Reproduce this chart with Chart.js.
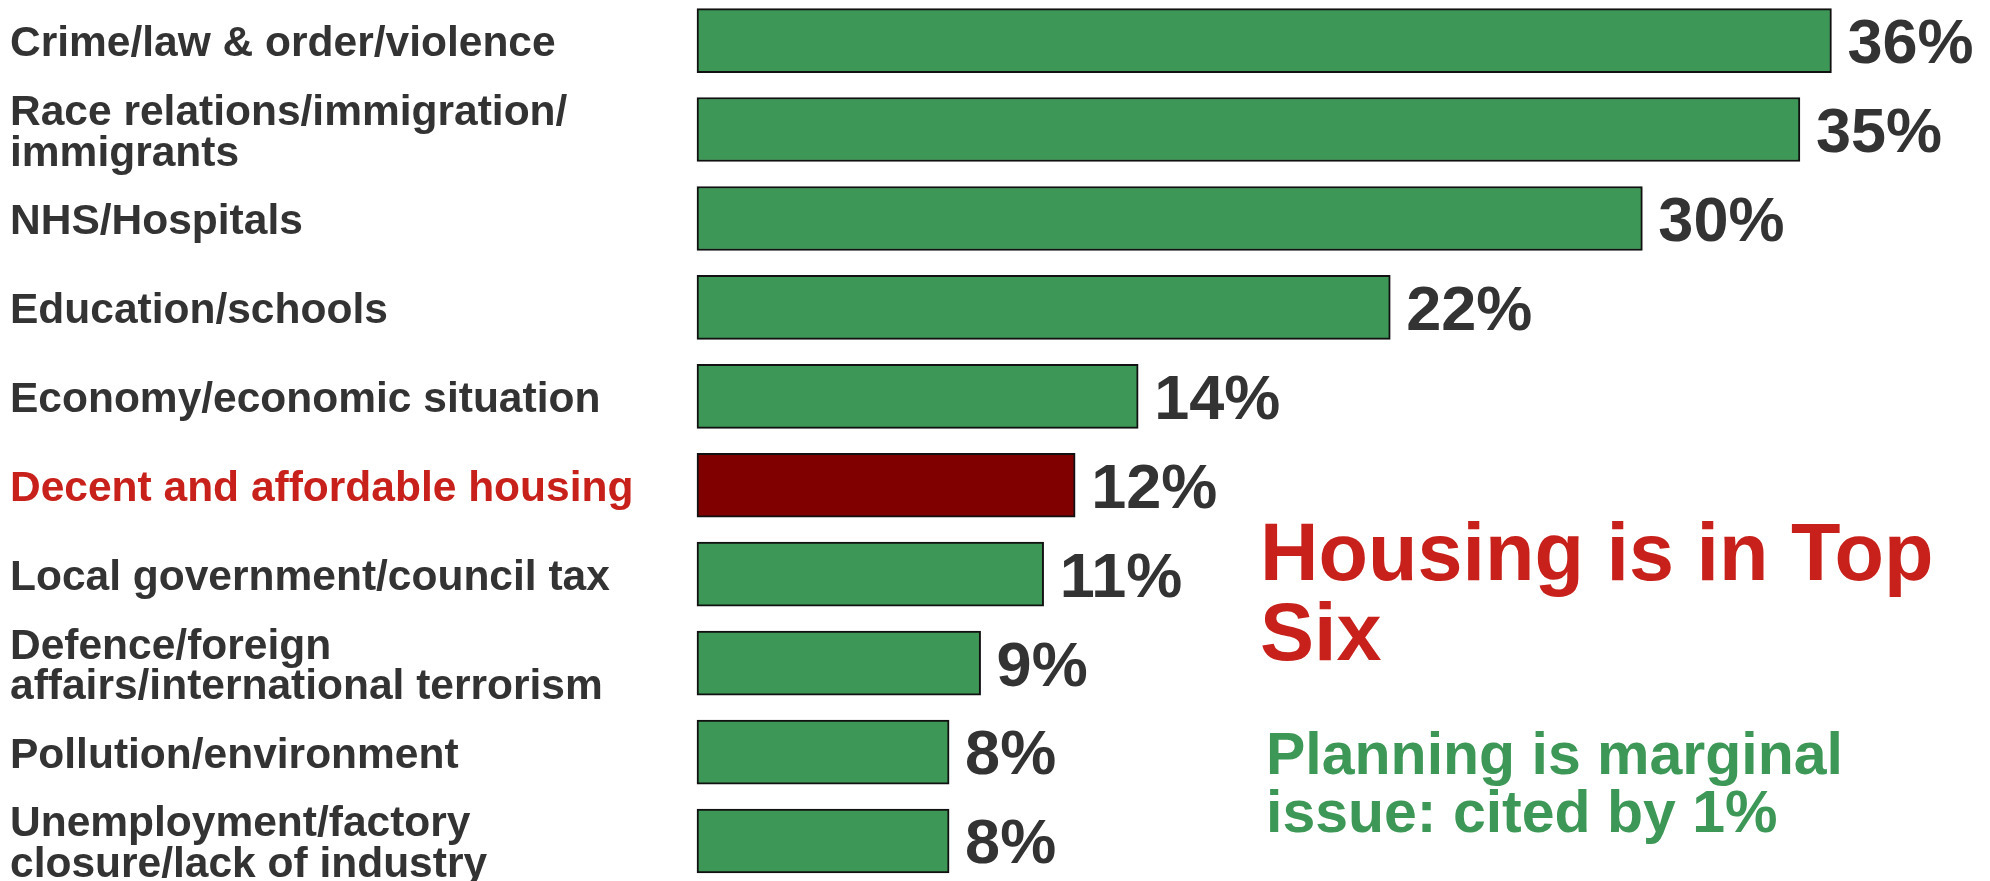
<!DOCTYPE html>
<html>
<head>
<meta charset="utf-8">
<script src="https://cdn.jsdelivr.net/npm/chart.js@4.4.1/dist/chart.umd.min.js"></script>
<style>
  html, body { margin: 0; padding: 0; background: #fff; }
  #wrap { position: relative; width: 1990px; height: 881px; }
</style>
</head>
<body>
<div id="wrap"><canvas id="issuesChart"></canvas></div>
<script>
// Issues cited (share of respondents, %)
const categories = [
    'Crime/law & order/violence',
    ['Race relations/immigration/', 'immigrants'],
    'NHS/Hospitals',
    'Education/schools',
    'Economy/economic situation',
    'Decent and affordable housing',
    'Local government/council tax',
    ['Defence/foreign', 'affairs/international terrorism'],
    'Pollution/environment',
    ['Unemployment/factory', 'closure/lack of industry']
];
const shares = [36, 35, 30, 22, 14, 12, 11, 9, 8, 8];
const highlightIndex = 5; // housing

const headlineLines = ['Housing is in Top', 'Six'];
const sublineLines = ['Planning is marginal', 'issue: cited by 1%'];

const GREEN = '#3d9756';
const DARK_RED = '#800000';
const TEXT_RED = '#c8201a';
const TEXT_DARK = '#333333';
const FONT = '"Liberation Sans", Arial, Helvetica, sans-serif';

// value labels at the end of each bar
const valueLabels = {
    id: 'valueLabels',
    afterDatasetsDraw(chart) {
        const ctx = chart.ctx;
        const meta = chart.getDatasetMeta(0);
        ctx.save();
        ctx.font = 'bold 63px ' + FONT;
        ctx.fillStyle = TEXT_DARK;
        ctx.textAlign = 'left';
        ctx.textBaseline = 'middle';
        meta.data.forEach((bar, i) => {
            ctx.fillText(shares[i] + '%', bar.x + 16, bar.y + 5);
        });
        ctx.restore();
    }
};

// callout text on the right
const callouts = {
    id: 'callouts',
    afterDraw(chart) {
        const ctx = chart.ctx;
        ctx.save();
        ctx.textAlign = 'left';
        ctx.textBaseline = 'alphabetic';
        ctx.font = 'bold 81px ' + FONT;
        ctx.fillStyle = TEXT_RED;
        headlineLines.forEach((t, i) => ctx.fillText(t, 1260, 580 + i * 80));
        ctx.font = 'bold 59px ' + FONT;
        ctx.fillStyle = GREEN;
        sublineLines.forEach((t, i) => ctx.fillText(t, 1266, 774 + i * 58));
        ctx.restore();
    }
};

const ctx = document.getElementById('issuesChart').getContext('2d');
new Chart(ctx, {
    type: 'bar',
    data: {
        labels: categories,
        datasets: [{
            data: shares,
            backgroundColor: shares.map((v, i) => i === highlightIndex ? DARK_RED : GREEN),
            borderColor: '#111111',
            borderWidth: 2,
            borderSkipped: false,
            barThickness: 64,
            clip: false
        }]
    },
    options: {
        indexAxis: 'y',
        responsive: true,
        maintainAspectRatio: false,
        devicePixelRatio: 1,
        animation: false,
        layout: { padding: { left: 10, top: 39, bottom: 40, right: 1 } },
        plugins: {
            legend: { display: false },
            tooltip: { enabled: false },
            title: { display: false }
        },
        scales: {
            x: {
                display: false,
                min: 0,
                max: 41
            },
            y: {
                offset: false,
                grid: { display: false },
                border: { display: false },
                afterFit: (scale) => { scale.width = 687; },
                ticks: {
                    autoSkip: false,
                    crossAlign: 'far',
                    padding: 0,
                    labelOffset: 4,
                    font: { family: FONT, size: 42.5, weight: 'bold', lineHeight: 0.955 },
                    color: (c) => c.index === highlightIndex ? TEXT_RED : TEXT_DARK
                }
            }
        }
    },
    plugins: [valueLabels, callouts]
});
</script>
</body>
</html>
